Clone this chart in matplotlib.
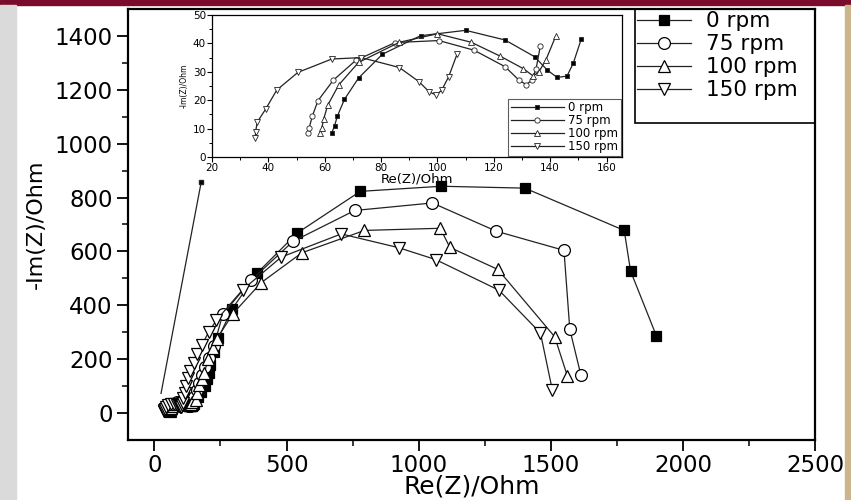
import matplotlib
matplotlib.use("Agg")
import matplotlib.pyplot as plt
from matplotlib.patches import Rectangle
from matplotlib.ticker import FixedLocator

plt.rcParams['font.family'] = ['DejaVu Sans']

labels = ['0 rpm', '75 rpm', '100 rpm', '150 rpm']
markers = ['s', 'o', '^', 'v']
faces = ['black', 'white', 'white', 'white']

# high-frequency part (shown in the inset)
re_0_hf = [62.5, 63.5, 64.5, 67, 72, 80.5, 94, 110, 124, 134.5, 139, 142.5, 146, 148.2, 151]
im_0_hf = [8.5, 11, 14.4, 20.3, 27.8, 36.2, 42.7, 44.6, 41.2, 35.3, 30.6, 28, 28.5, 33, 41.4]
re_75_hf = [54, 54.5, 55.6, 57.6, 63, 71, 85, 100.5, 113, 124, 129, 131.5, 133.5, 135, 136.5]
im_75_hf = [8.3, 10.3, 14.4, 19.8, 27, 34, 40.3, 41, 37.6, 31.8, 27, 25.5, 27, 31, 39]
re_100_hf = [58.4, 59, 59.6, 61.1, 65, 72, 86.5, 100, 112, 122.3, 130.5, 134, 136, 138.5, 142]
im_100_hf = [8.3, 10.3, 13.3, 18.3, 25.4, 33.3, 40.4, 43.4, 40.4, 35.5, 31.1, 28.5, 30, 34.2, 42.6]
re_150_hf = [35.3, 35.5, 36, 39, 43, 50.5, 62.5, 73, 86.5, 93.5, 97, 99.5, 101.5, 104, 107]
im_150_hf = [6.8, 8.9, 12.2, 16.8, 23.6, 29.8, 34.5, 35, 31.5, 26.5, 23, 21.8, 23.5, 28.3, 36.3]

# low-frequency continuation
re_0_lf = [165, 178, 190, 198, 205, 212, 224, 241, 293, 389, 540, 779, 1086, 1402, 1778, 1802, 1900]
im_0_lf = [60, 80, 100, 125, 150, 180, 225, 277, 385, 520, 668, 823, 842, 835, 678, 527, 286]
re_75_lf = [150, 160, 170, 180, 192, 205, 225, 259, 366, 524, 758, 1052, 1294, 1550, 1572, 1614]
im_75_lf = [60, 85, 110, 140, 170, 205, 250, 367, 493, 637, 752, 780, 675, 604, 311, 141]
re_100_lf = [158, 163, 170, 180, 189, 202, 220, 236, 297, 404, 558, 795, 1082, 1118, 1300, 1515, 1563]
im_100_lf = [50, 73, 104, 125, 147, 199, 240, 275, 369, 484, 595, 678, 686, 615, 533, 283, 137]
re_150_lf = [110, 115, 121, 126, 136, 148, 162, 179, 205, 234, 334, 480, 707, 924, 1064, 1304, 1461, 1506]
im_150_lf = [55, 75, 100, 130, 158, 184, 218, 252, 300, 344, 458, 579, 665, 614, 570, 456, 297, 85]

# stray segment at the left of the main plot
re_stray = [25, 177]
im_stray = [73, 857]

hf_re = [re_0_hf, re_75_hf, re_100_hf, re_150_hf]
hf_im = [im_0_hf, im_75_hf, im_100_hf, im_150_hf]
lf_re = [re_0_lf, re_75_lf, re_100_lf, re_150_lf]
lf_im = [im_0_lf, im_75_lf, im_100_lf, im_150_lf]

fig = plt.figure(figsize=(8.51, 5.0), dpi=100)

# slide frame around the figure
fig.patches.append(Rectangle((0, 1 - 5 / 500), 1, 5 / 500, transform=fig.transFigure,
                             color='#7a0b2b', zorder=0))
fig.patches.append(Rectangle((0, 0), 16 / 851, 1 - 5 / 500, transform=fig.transFigure,
                             color='#dadada', zorder=0))
fig.patches.append(Rectangle((845 / 851, 0), 6 / 851, 1 - 5 / 500, transform=fig.transFigure,
                             color='#cbb68c', zorder=0))

# main Nyquist plot
ax = fig.add_axes([128 / 851, 60 / 500, 687 / 851, 431 / 500])
main_ms = [7, 8.5, 9, 9]
for i in range(len(labels)):
    ax.plot(hf_re[i] + lf_re[i], hf_im[i] + lf_im[i], marker=markers[i], ms=main_ms[i],
            mfc=faces[i], mec='black', mew=0.9, color='#222222', lw=0.9, label=labels[i])
ax.plot(re_stray, im_stray, color='#222222', lw=0.9, marker='s', ms=3, markevery=[1], mfc='black')

ax.set_xlim(-100, 2500)
ax.set_ylim(-100, 1500)
ax.set_xticks([0, 500, 1000, 1500, 2000, 2500])
ax.set_yticks([0, 200, 400, 600, 800, 1000, 1200, 1400])
ax.xaxis.set_minor_locator(FixedLocator([250, 750, 1250, 1750, 2250]))
ax.yaxis.set_minor_locator(FixedLocator([100, 300, 500, 700, 900, 1100, 1300]))
ax.tick_params(which='major', direction='out', length=8, width=1.3, labelsize=16.5, pad=3)
ax.tick_params(axis='x', which='major', pad=2)
ax.tick_params(which='minor', direction='out', length=4, width=1.1)
for s in ax.spines.values():
    s.set_linewidth(1.6)
ax.set_xlabel('Re(Z)/Ohm', fontsize=18, labelpad=-2)
ax.set_ylabel('-Im(Z)/Ohm', fontsize=16, labelpad=6)

ax.add_patch(Rectangle((0.738, 0.735), 0.262, 0.265, transform=ax.transAxes,
                       fill=False, ec='black', lw=1.2, zorder=5))
ax.legend(loc='upper left', bbox_to_anchor=(0.738, 1.0), frameon=False, fontsize=15.5,
          handlelength=2.5, handletextpad=0.7, labelspacing=0.14, borderpad=0.0,
          borderaxespad=0.1)

# inset: high-frequency region
axin = fig.add_axes([212 / 851, 343 / 500, 410 / 851, 142 / 500])
in_ms = [3, 3.8, 4.2, 4.2]
for i in range(len(labels)):
    axin.plot(hf_re[i], hf_im[i], marker=markers[i], ms=in_ms[i], mfc=faces[i],
              mec='#222222', mew=0.6, color='#222222', lw=0.9, label=labels[i])
axin.set_xlim(20, 165.5)
axin.set_ylim(0, 50)
axin.set_xticks(range(20, 161, 20))
axin.set_yticks(range(0, 51, 10))
axin.xaxis.set_minor_locator(FixedLocator(range(30, 161, 20)))
axin.yaxis.set_minor_locator(FixedLocator(range(5, 50, 10)))
axin.tick_params(which='major', direction='out', length=3.5, width=0.8, labelsize=7.5, pad=0.8)
axin.tick_params(which='minor', direction='out', length=2, width=0.7)
for s in axin.spines.values():
    s.set_linewidth(0.9)
axin.set_xlabel('Re(Z)/Ohm', fontsize=9.5, labelpad=0)
axin.set_ylabel('-Im(Z)/Ohm', fontsize=5.5, labelpad=3)
leg = axin.legend(loc='lower right', bbox_to_anchor=(1.0, 0.0), fontsize=8.5,
                  handlelength=4.5, handletextpad=0.4, labelspacing=0.0, borderpad=0.2,
                  borderaxespad=0.1, fancybox=False, edgecolor='#333333')
leg.get_frame().set_linewidth(0.8)

fig.savefig('out.png', dpi=100)
